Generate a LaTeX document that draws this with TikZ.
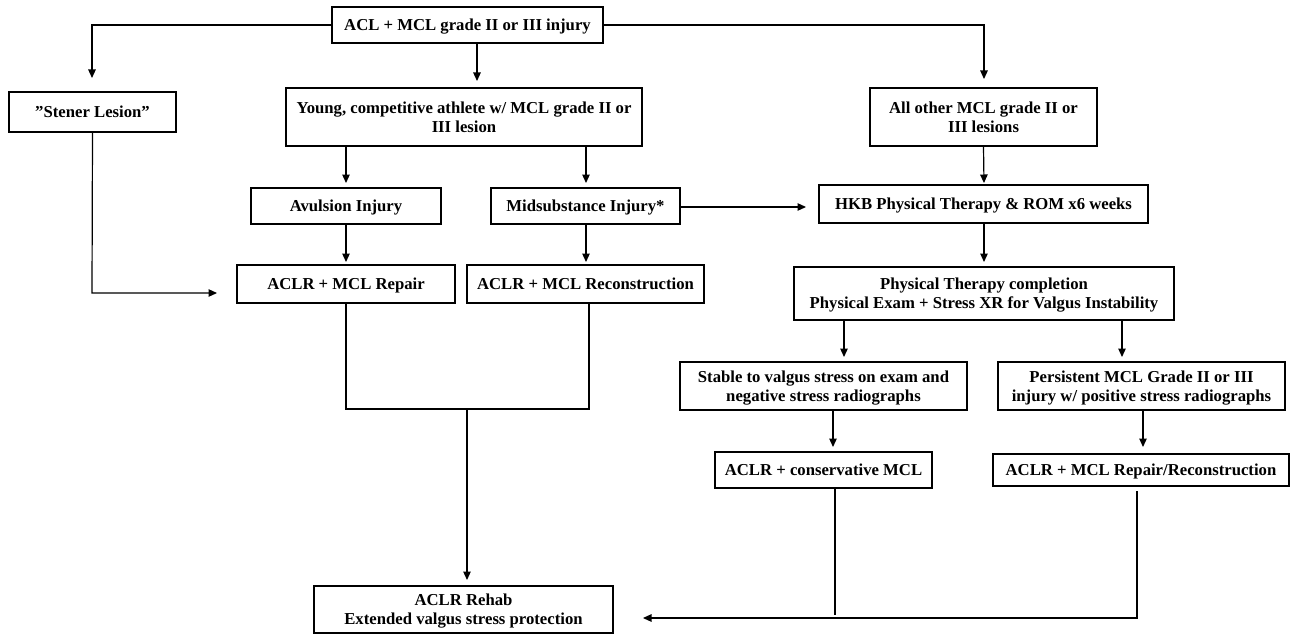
\documentclass[tikz,border=0pt]{standalone}
\usepackage{fontspec}
\setmainfont{Liberation Serif}
\usetikzlibrary{arrows.meta}
\begin{document}
\begin{tikzpicture}[x=1pt,y=-1pt,
  box/.style={draw=black,line width=1.3pt,inner sep=0pt,text depth=-4pt,align=center,font=\fontsize{16.7}{19}\selectfont\bfseries},
  conn/.style={line width=1.2pt},
  arr/.style={conn,-{Triangle[length=8.5pt,width=7.5pt]}}]
\useasboundingbox (0,0) rectangle (1291,634);
\node[box,minimum width=271pt,minimum height=36pt] (acl) at (467.5,25) {ACL + MCL grade II or III injury};
\node[box,minimum width=167pt,minimum height=40pt] (stener) at (92.5,112) {”Stener Lesion”};
\node[box,minimum width=356pt,minimum height=58pt] (young) at (464,117) {Young, competitive athlete w/ MCL grade II or\\III lesion};
\node[box,minimum width=227pt,minimum height=58pt] (other) at (983.5,117) {All other MCL grade II or\\III lesions};
\node[box,minimum width=190pt,minimum height=36pt] (avul) at (346,206) {Avulsion Injury};
\node[box,minimum width=189pt,minimum height=36pt] (mid) at (585.5,206) {Midsubstance Injury*};
\node[box,minimum width=329pt,minimum height=38pt] (hkb) at (983.5,204) {HKB Physical Therapy \& ROM x6 weeks};
\node[box,minimum width=218pt,minimum height=38pt] (repair) at (346,284) {ACLR + MCL Repair};
\node[box,minimum width=237pt,minimum height=38pt] (recon) at (585.5,284) {ACLR + MCL Reconstruction};
\node[box,minimum width=380pt,minimum height=53pt] (ptc) at (984,293.5) {Physical Therapy completion\\Physical Exam + Stress XR for Valgus Instability};
\node[box,minimum width=287pt,minimum height=48pt] (stable) at (823.5,386) {Stable to valgus stress on exam and\\negative stress radiographs};
\node[box,minimum width=287pt,minimum height=48pt] (persist) at (1141.5,386) {Persistent MCL Grade II or III\\injury w/ positive stress radiographs};
\node[box,minimum width=217pt,minimum height=36pt] (cons) at (823.5,470) {ACLR + conservative MCL};
\node[box,minimum width=296pt,minimum height=32pt] (reprec) at (1141,470) {ACLR + MCL Repair/Reconstruction};
\node[box,minimum width=299pt,minimum height=47pt] (rehab) at (463.5,609.5) {ACLR Rehab\\Extended valgus stress protection};
% coordinates
\coordinate (tStener) at (92,78);
\coordinate (tYoung) at (477,81);
\coordinate (tOther) at (984,79);
\coordinate (tAvul) at (346,183);
\coordinate (tMid) at (586,183);
\coordinate (tHkb) at (984,183);
\coordinate (tHkbL) at (806,207);
\coordinate (tRepair) at (346,262);
\coordinate (tRecon) at (586,262);
\coordinate (tPtc) at (984,262);
\coordinate (stBend) at (92,293);
\coordinate (tRepairL) at (217,293);
\coordinate (jL) at (346,409);
\coordinate (jR) at (589,409);
\coordinate (jM) at (467,409);
\coordinate (tRehab) at (467,580);
\coordinate (tStable) at (844,357);
\coordinate (tPersist) at (1122,357);
\coordinate (tCons) at (833,447);
\coordinate (tReprec) at (1143,447);
\coordinate (consEnd) at (835,615);
\coordinate (rpStart) at (1137,491);
\coordinate (rpBend) at (1137,618);
\coordinate (tRehabR) at (643,618);
% connectors
\draw[arr] (acl.west) -| (tStener);
\draw[arr] (acl.south -| tYoung) -- (tYoung);
\draw[arr] (acl.east) -| (tOther);
\draw[arr] (young.south -| tAvul) -- (tAvul);
\draw[arr] (young.south -| tMid) -- (tMid);
\draw[arr] (other.south) -- (tHkb);
\draw[arr] (mid.east |- tHkbL) -- (tHkbL);
\draw[arr] (avul.south) -- (tRepair);
\draw[arr] (mid.south -| tRecon) -- (tRecon);
\draw[arr] (hkb.south -| tPtc) -- (tPtc);
\draw[arr] (stener.south) -- (stBend) -- (tRepairL);
\draw[conn] (repair.south) -- (jL) -- (jR) -- (recon.south -| jR);
\draw[arr] (jM) -- (tRehab);
\draw[arr] (ptc.south -| tStable) -- (tStable);
\draw[arr] (ptc.south -| tPersist) -- (tPersist);
\draw[arr] (stable.south -| tCons) -- (tCons);
\draw[arr] (persist.south -| tReprec) -- (tReprec);
\draw[conn] (cons.south -| consEnd) -- (consEnd);
\draw[arr] (rpStart) -- (rpBend) -- (tRehabR);
\end{tikzpicture}
\end{document}
